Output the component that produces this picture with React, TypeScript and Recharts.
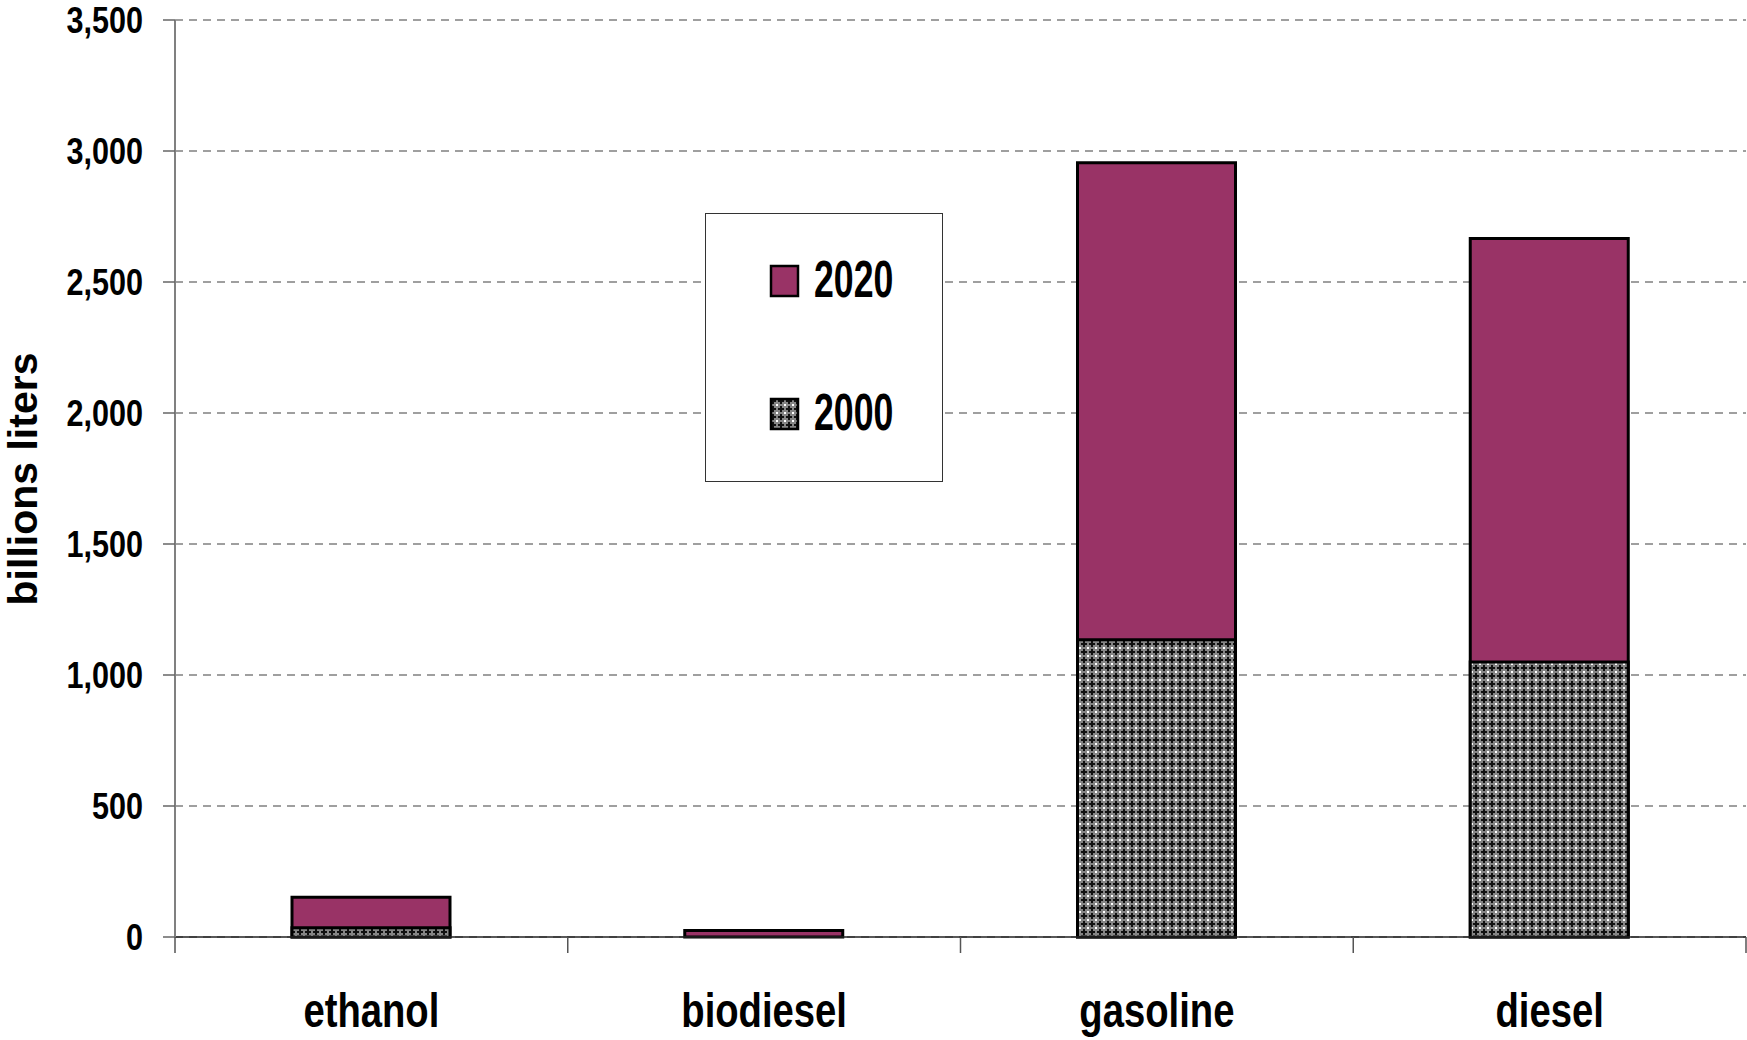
import React from 'react';
import { BarChart, Bar, XAxis, YAxis, CartesianGrid, Legend, Label } from 'recharts';

const categories = ['ethanol', 'biodiesel', 'gasoline', 'diesel'];
const values2020 = [152, 25, 2955, 2666];
const values2000 = [35, 0, 1135, 1050];
const yTicks = [0, 500, 1000, 1500, 2000, 2500, 3000, 3500];

const data = categories.map((name, i) => ({ name, y2020: values2020[i], y2000: values2000[i] }));

const FONT = "'Liberation Sans', Arial, Helvetica, sans-serif";
const PLUM = '#993366';

const fmt = (v: number) => v.toLocaleString('en-US');

const PatternDef = ({ id }: { id: string }) => (
  <pattern id={id} width={8} height={8} patternUnits="userSpaceOnUse">
    <rect x={0} y={0} width={8} height={8} fill="#858585" />
    <rect x={1} y={3} width={6} height={2} fill="#111" />
    <rect x={3} y={1} width={2} height={6} fill="#111" />
    <rect x={0} y={0} width={1} height={1} fill="#fff" />
    <rect x={7} y={7} width={1} height={1} fill="#fff" />
    <rect x={7} y={0} width={1} height={1} fill="#fff" />
    <rect x={0} y={7} width={1} height={1} fill="#fff" />
  </pattern>
);

const YTick = (props: any) => {
  const { x, y, payload } = props;
  return (
    <text
      transform={`translate(${x},${y + 13.3}) scale(0.82,1)`}
      textAnchor="end"
      fontFamily={FONT}
      fontWeight="bold"
      fontSize={37.3}
      fill="#000"
    >
      {fmt(payload.value)}
    </text>
  );
};

const XTick = (props: any) => {
  const { x, y, payload, index, visibleTicksCount } = props;
  const half = payload && typeof payload.offset === 'number' ? payload.offset : 0;
  const isLast = visibleTicksCount ? index === visibleTicksCount - 1 : index === categories.length - 1;
  return (
    <g>
      {half > 0 && (
        <line x1={x - half} x2={x - half} y1={y} y2={y + 16} stroke="#555" strokeWidth={1.5} />
      )}
      {half > 0 && isLast && (
        <line x1={x + half} x2={x + half} y1={y} y2={y + 16} stroke="#555" strokeWidth={1.5} />
      )}
      <text
        transform={`translate(${x},${y + 90}) scale(0.78,1)`}
        textAnchor="middle"
        fontFamily={FONT}
        fontWeight="bold"
        fontSize={49}
        fill="#000"
      >
        {payload.value}
      </text>
    </g>
  );
};

const YTitle = () => (
  <text
    transform="translate(37,479) rotate(-90)"
    textAnchor="middle"
    fontFamily={FONT}
    fontWeight="bold"
    fontSize={41}
    fill="#000"
  >
    billions liters
  </text>
);

const LegendBox = (props: any) => {
  const payload = [...(props.payload || [])].sort((a: any, b: any) =>
    String(b.value).localeCompare(String(a.value))
  );
  return (
    <svg width={238} height={270} style={{ display: 'block' }}>
      <defs>
        <PatternDef id="legendPat" />
      </defs>
      <rect x={0.5} y={0.5} width={237} height={268} fill="#fff" stroke="#333" strokeWidth={1} />
      {payload.map((entry: any, i: number) => {
        const top = i === 0 ? 53 : 186;
        const fill = entry.dataKey === 'y2000' ? 'url(#legendPat)' : PLUM;
        return (
          <g key={String(entry.value)}>
            <rect x={66} y={top} width={27} height={30} fill={fill} stroke="#000" strokeWidth={2.5} />
            <text
              transform={`translate(109,${top + 31}) scale(0.70,1)`}
              fontFamily={FONT}
              fontWeight="bold"
              fontSize={51}
              fill="#000"
            >
              {entry.value}
            </text>
          </g>
        );
      })}
    </svg>
  );
};

export default function App() {
  return (
    <div style={{ position: 'absolute', left: 0, top: 0, width: 1747, height: 1040, background: '#fff' }}>
      <svg width={0} height={0} style={{ position: 'absolute' }}>
        <defs>
          <PatternDef id="pat2000" />
        </defs>
      </svg>
      <BarChart
        width={1747}
        height={1040}
        data={data}
        margin={{ top: 20, right: 1, bottom: 0, left: 0 }}
        barGap={0}
      >
        <CartesianGrid
          horizontal
          vertical={false}
          stroke="#808080"
          strokeWidth={1.5}
          strokeDasharray="8 6"
        />
        <XAxis
          xAxisId="cat"
          dataKey="name"
          height={103}
          axisLine={{ stroke: '#222', strokeWidth: 1.5 }}
          tickLine={false}
          tickSize={0}
          tickMargin={0}
          tick={<XTick />}
          interval={0}
        />
        <XAxis xAxisId="cat2" dataKey="name" hide />
        <YAxis
          width={175}
          domain={[0, 3500]}
          ticks={yTicks}
          interval={0}
          tickSize={12}
          tickMargin={20}
          tick={<YTick />}
          axisLine={{ stroke: '#808080', strokeWidth: 2 }}
          tickLine={{ stroke: '#666', strokeWidth: 1.5 }}
        >
          <Label content={<YTitle />} />
        </YAxis>
        <Legend
          layout="vertical"
          align="center"
          verticalAlign="middle"
          content={<LegendBox />}
          wrapperStyle={{ position: 'absolute', left: 705, top: 213, width: 238, height: 270 }}
        />
        <Bar
          xAxisId="cat"
          dataKey="y2020"
          name="2020"
          fill={PLUM}
          stroke="#000"
          strokeWidth={3}
          barSize={158}
          isAnimationActive={false}
        />
        <Bar
          xAxisId="cat2"
          dataKey="y2000"
          name="2000"
          fill="url(#pat2000)"
          stroke="#000"
          strokeWidth={3}
          barSize={158}
          isAnimationActive={false}
        />
      </BarChart>
    </div>
  );
}
